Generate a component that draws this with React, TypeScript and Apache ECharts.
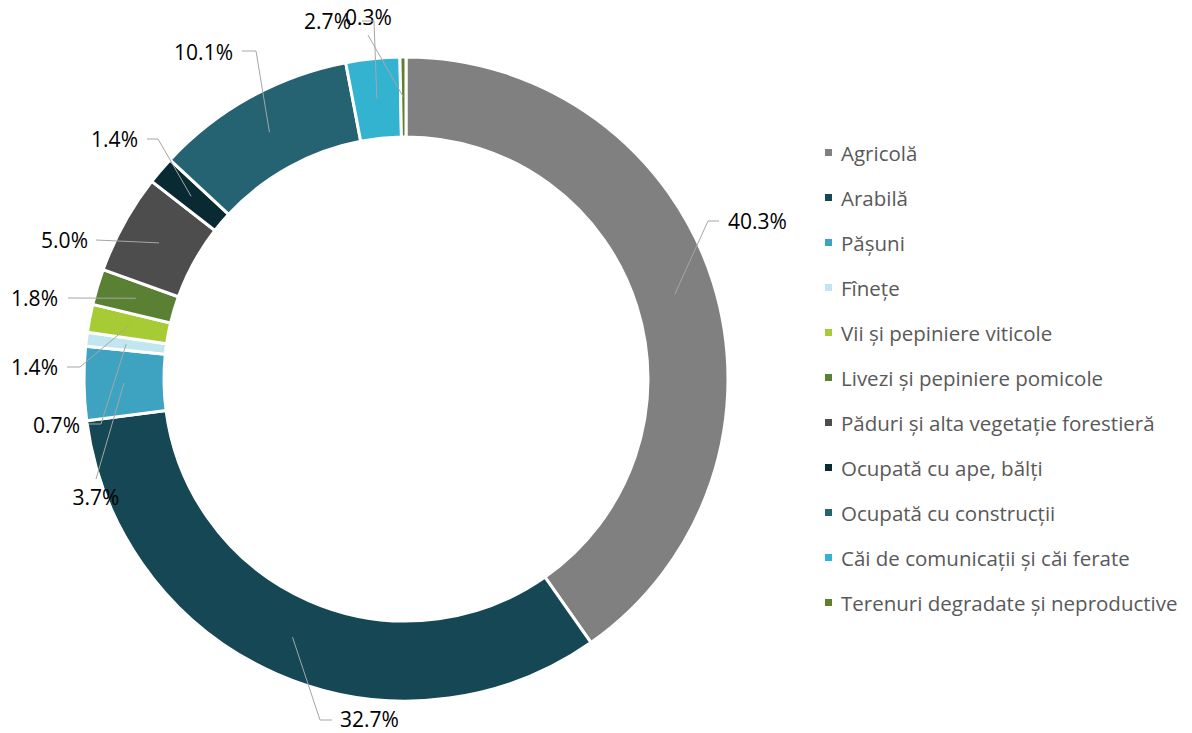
import React, { useEffect, useRef } from "react";
import * as echarts from "echarts";

const categories = [
  "Agricolă",
  "Arabilă",
  "Pășuni",
  "Fînețe",
  "Vii și pepiniere viticole",
  "Livezi și pepiniere pomicole",
  "Păduri și alta vegetație forestieră",
  "Ocupată cu ape, bălți",
  "Ocupată cu construcții",
  "Căi de comunicații și căi ferate",
  "Terenuri degradate și neproductive",
];
const values = [40.3, 32.7, 3.7, 0.7, 1.4, 1.8, 5.0, 1.4, 10.1, 2.7, 0.3];
const colors = [
  "#808080",
  "#154754",
  "#3DA3C1",
  "#C2E6EF",
  "#A7CB35",
  "#5A8034",
  "#4D4D4D",
  "#0A2A33",
  "#256272",
  "#34B3D1",
  "#5E7F2C",
];

// label placement (text anchor x, y, alignment, leader-line bend points)
const labelX = [728, 340, 96, 80, 58, 58, 88, 138, 233, 351, 345];
const labelY = [221, 719, 497, 425, 367, 298, 240, 139, 52, 21, 17];
const labelAlign = ["left", "left", "center", "right", "right", "right", "right", "right", "right", "right", "left"];
const labelBends: number[][][] = [
  [[708, 221], [719, 221]],
  [[320, 720], [332, 720]],
  [[96, 479]],
  [[101, 424], [89, 424]],
  [[80, 367], [67, 367]],
  [[68, 298]],
  [[96, 240]],
  [[158, 139], [147, 139]],
  [[256, 51], [242, 51]],
  [[374, 21], [362, 21]],
  [[368, 35]],
];

const CX = 406;
const CY = 379;
const R_IN = 242;
const R_OUT = 322;
const FONT = "'Open Sans', sans-serif";

export default function App() {
  const ref = useRef<HTMLDivElement>(null);
  useEffect(() => {
    if (!ref.current) return;
    const chart = echarts.init(ref.current, undefined, { renderer: "svg" });
    const total = values.reduce((a, b) => a + b, 0);
    const mids: number[][] = [];
    let cum = 0;
    const rMid = (R_IN + R_OUT) / 2;
    values.forEach((v) => {
      const frac = (cum + v / 2) / total;
      const ang = frac * Math.PI * 2;
      mids.push([CX + rMid * Math.sin(ang), CY - rMid * Math.cos(ang)]);
      cum += v;
    });
    chart.setOption({
      animation: false,
      color: colors,
      legend: {
        orient: "vertical",
        left: 823,
        top: 142,
        padding: 0,
        itemWidth: 9,
        itemHeight: 9,
        itemGap: 24,
        icon: "rect",
        data: categories,
        textStyle: {
          fontFamily: FONT,
          fontSize: 20.5,
          color: "#595959",
          lineHeight: 20,
          padding: [0, 0, 0, 3],
        },
      },
      graphic: mids.map((m, i) => ({
        type: "polyline",
        z: 100,
        silent: true,
        shape: { points: [m, ...labelBends[i]] },
        style: { stroke: "#A6A6A6", lineWidth: 1, fill: "none" },
      })),
      series: [
        {
          type: "pie",
          center: [CX, CY],
          radius: [R_IN, R_OUT],
          startAngle: 90,
          clockwise: true,
          avoidLabelOverlap: false,
          itemStyle: { borderColor: "#ffffff", borderWidth: 3 },
          label: {
            show: true,
            position: "outside",
            formatter: (p: any) => Number(p.value).toFixed(1) + "%",
            fontFamily: FONT,
            fontSize: 21,
            color: "#000000",
          },
          labelLine: { show: false },
          labelLayout: (params: any) => {
            const i = params.dataIndex;
            return {
              x: labelX[i],
              y: labelY[i],
              align: labelAlign[i],
              verticalAlign: "middle",
            };
          },
          emphasis: { disabled: true },
          data: categories.map((name, i) => ({ name, value: values[i] })),
        },
      ],
    });
    return () => chart.dispose();
  }, []);
  return (
    <div
      ref={ref}
      style={{ position: "fixed", left: 0, top: 0, width: 1192, height: 733, background: "#fff" }}
    />
  );
}
